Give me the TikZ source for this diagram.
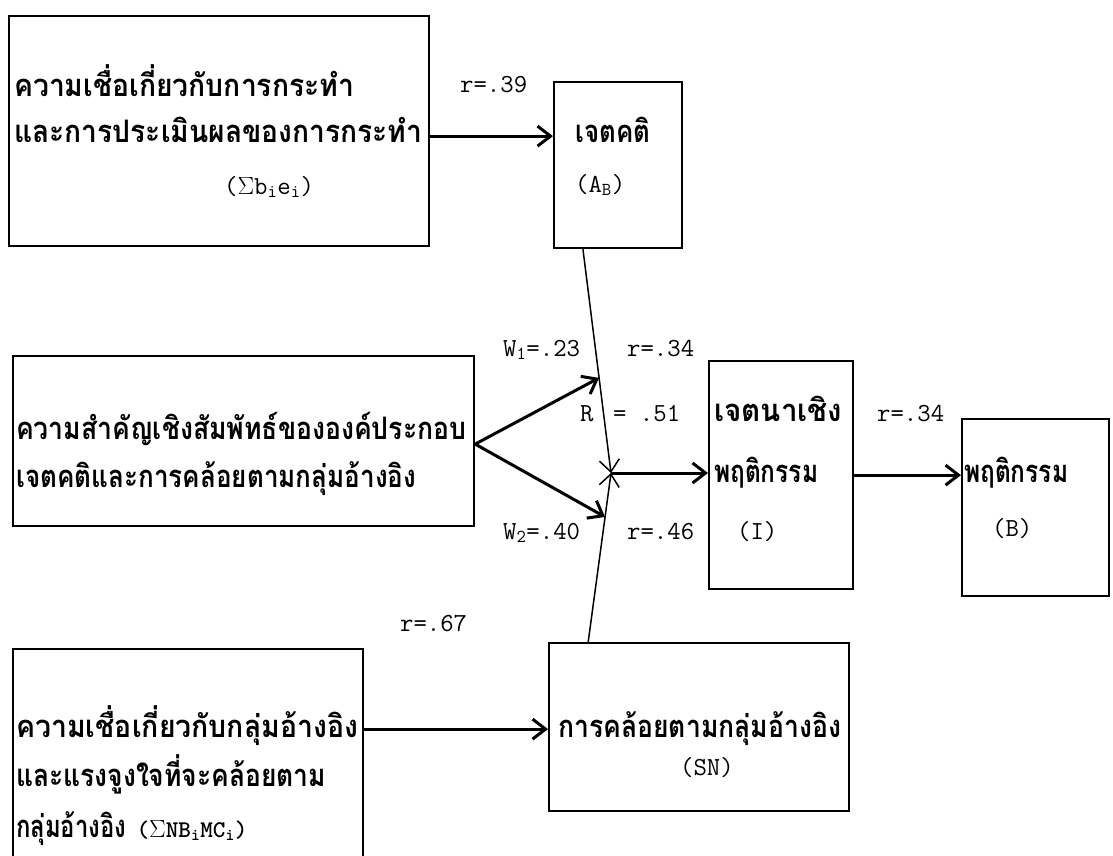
\documentclass[tikz,border=0pt]{standalone}
\usepackage{fontspec}
\usepackage{graphicx}
\newfontfamily\thaifont[Script=Thai]{Loma}
\usetikzlibrary{arrows.meta,calc}
\newcommand{\thw}[2]{\resizebox{#1}{\height}{\thaifont\bfseries #2}}
\begin{document}
\begin{tikzpicture}[x=1pt,y=-1pt,
  box/.style={draw, line width=2.2pt, inner sep=0pt, anchor=north west},
  thtxt/.style={font=\thaifont\bfseries\fontsize{31}{34}\selectfont, anchor=base west, inner sep=0pt},
  lttxt/.style={font=\ttfamily\fontsize{26}{30}\selectfont, anchor=base west, inner sep=0pt},
  arr/.style={line width=3pt, -{Straight Barb[length=13pt,width=20pt]}},
  thinarr/.style={line width=1.5pt, -{Straight Barb[length=12pt,width=20pt]}}]
\fill[white] (0,0) rectangle (1113,855);
\clip (0,0) rectangle (1113,855);
% boxes
\node[box, minimum width=420pt, minimum height=230pt] (b1) at (8,15) {};
\node[box, minimum width=128pt, minimum height=166pt] (b2) at (553,81) {};
\node[box, minimum width=461pt, minimum height=170pt] (b3) at (12,355) {};
\node[box, minimum width=144pt, minimum height=228pt] (bI) at (708,360) {};
\node[box, minimum width=147pt, minimum height=177pt] (bB) at (961,418) {};
\node[box, minimum width=350pt, minimum height=222pt] (b4) at (12,648) {};
\node[box, minimum width=300pt, minimum height=168pt] (bSN) at (548,642) {};
% box texts
\node[thtxt] (t1a) at (14,96) {\thw{340pt}{ความเชื่อเกี่ยวกับการกระทำ}};
\node[thtxt] (t1b) at (14,142) {\thw{408pt}{และการประเมินผลของการกระทำ}};
\node[lttxt] (t1c) at (224,194) {($\Sigma$b\textsubscript{i}e\textsubscript{i})};
\node[thtxt] (t2a) at (575,142) {\thw{75pt}{เจตคติ}};
\node[lttxt] (t2b) at (575,192) {(A\textsubscript{B})};
\node[thtxt] (t3a) at (16,439) {\thw{450pt}{ความสำคัญเชิงสัมพัทธ์ขององค์ประกอบ}};
\node[thtxt] (t3b) at (16,487) {\thw{400pt}{เจตคติและการคล้อยตามกลุ่มอ้างอิง}};
\node[thtxt] (tIa) at (714,421) {\thw{128pt}{เจตนาเชิง}};
\node[thtxt] (tIb) at (714,482) {\thw{104pt}{พฤติกรรม}};
\node[lttxt] (tIc) at (737,539) {(I)};
\node[thtxt] (tBa) at (964,482) {\thw{104pt}{พฤติกรรม}};
\node[lttxt] (tBb) at (992,536) {(B)};
\node[thtxt] (t4a) at (16,737) {\thw{342pt}{ความเชื่อเกี่ยวกับกลุ่มอ้างอิง}};
\node[thtxt] (t4b) at (16,786) {\thw{310pt}{และแรงจูงใจที่จะคล้อยตาม}};
\node[thtxt] (t4c) at (16,837) {\thw{110pt}{กลุ่มอ้างอิง}\ {\ttfamily\fontsize{24}{28}\selectfont($\Sigma$NB\textsubscript{i}MC\textsubscript{i})}};
\node[thtxt] (tSa) at (558,737) {\thw{283pt}{การคล้อยตามกลุ่มอ้างอิง}};
\node[lttxt] (tSb) at (680,775) {(SN)};
% labels
\node[lttxt] (r39) at (460,92) {r=.39};
\node[lttxt] (w1l) at (503,356) {W\textsubscript{1}=.23};
\node[lttxt] (r34a) at (627,356) {r=.34};
\node[lttxt] (rR) at (580,421) {R};
\node[lttxt] (r51) at (613,421) {= .51};
\node[lttxt] (w2l) at (503,539) {W\textsubscript{2}=.40};
\node[lttxt] (r46) at (627,539) {r=.46};
\node[lttxt] (r34b) at (877,421) {r=.34};
\node[lttxt] (r67) at (400,631) {r=.67};
% connector points
\coordinate (m) at (611,473);
\coordinate (ab) at ($(b2.south west)!0.23!(b2.south east)$);
\coordinate (sn) at ($(bSN.north west)!0.133!(bSN.north east)$);
\coordinate (w1) at ($(ab)!0.575!(m)$);
\coordinate (w2) at ($(sn)!0.74!(m)$);
\coordinate (v) at ([yshift=-3pt]b3.east);
% connectors
\draw[arr] ([yshift=-5pt]b1.east) -- ([yshift=-5pt]b1.east -| b2.west);
\draw[thinarr] (ab) -- (m);
\draw[thinarr] (sn) -- (m);
\draw[arr] (v) -- (w1);
\draw[arr] (v) -- (w2);
\draw[arr] (m) -- (m -| bI.west);
\draw[arr] (bI.east) -- (bI.east -| bB.west);
\draw[arr] ([yshift=31pt]b4.east) -- ([yshift=31pt]b4.east -| bSN.west);
\end{tikzpicture}
\end{document}
